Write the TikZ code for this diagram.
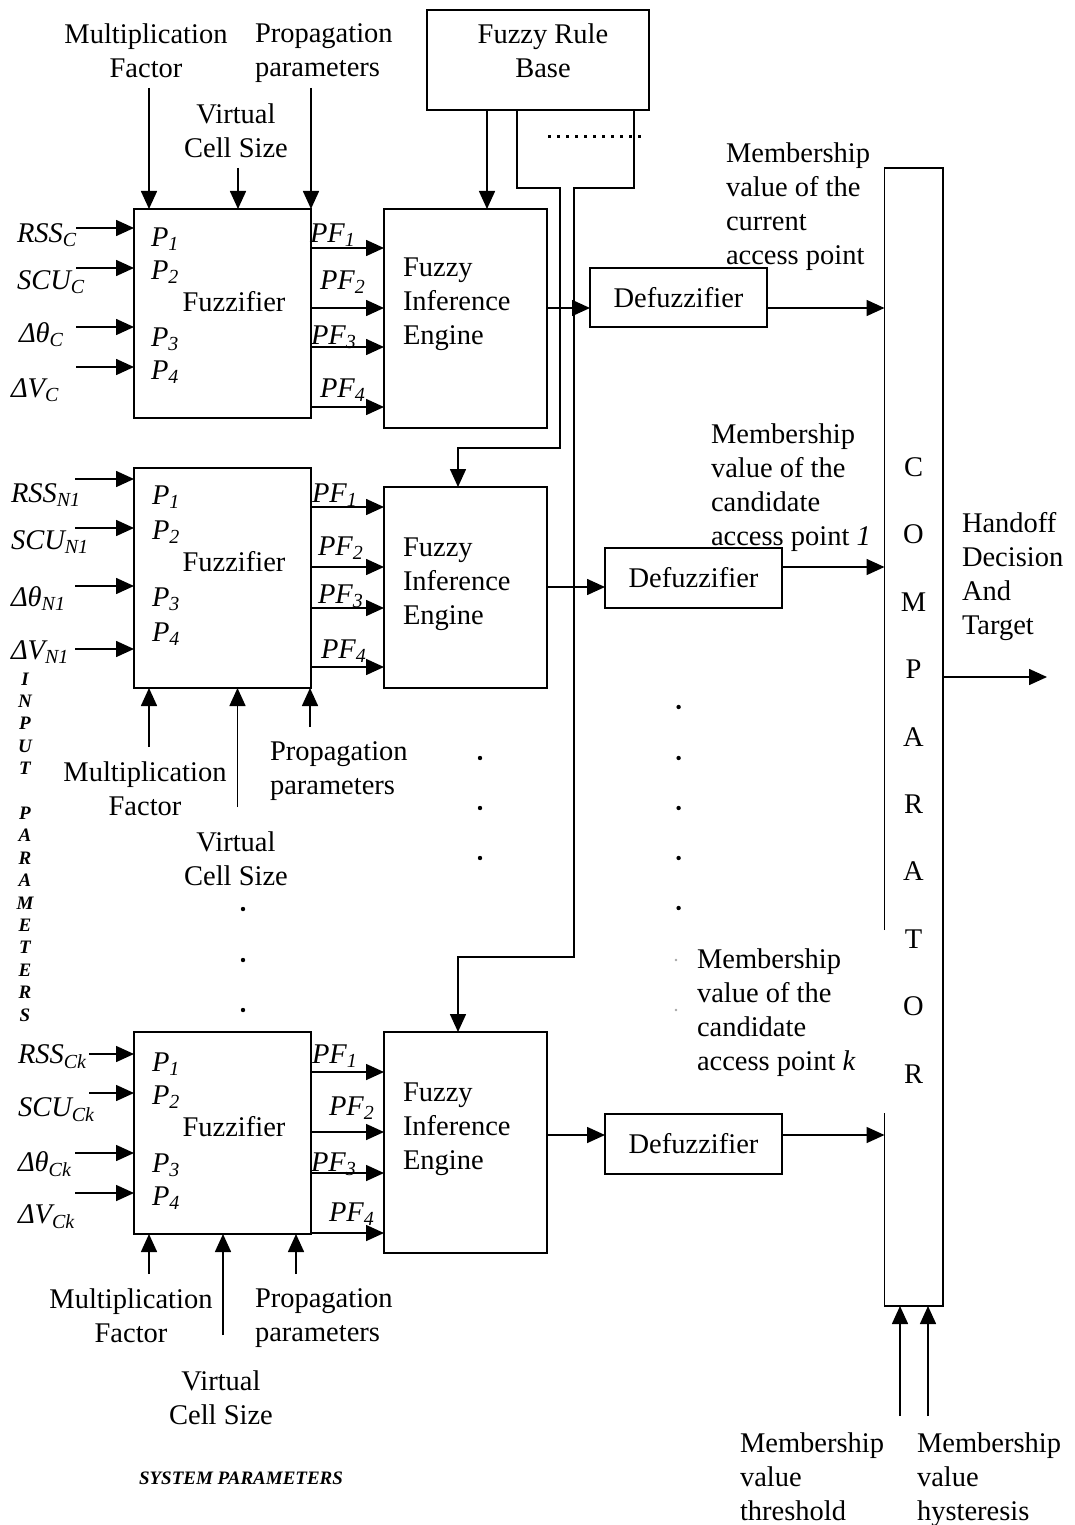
\documentclass[tikz,border=0pt]{standalone}
\usepackage{fontspec}
\setmainfont{Liberation Serif}
\usetikzlibrary{arrows.meta}
\begin{document}
\begin{tikzpicture}[x=1pt,y=-1pt,
  every node/.style={inner sep=0pt, outer sep=0pt},
  box/.style={draw, line width=1.6pt},
  wire/.style={line width=1.6pt},
  arr/.style={line width=1.6pt, -{Triangle[length=18pt,width=16pt]}},
  txt/.style={font=\fontsize{28.5}{34}\selectfont},
  itxt/.style={font=\fontsize{28.5}{34}\selectfont\itshape},
  tag/.style={font=\fontsize{19}{22.4}\selectfont\bfseries\itshape},
]
\useasboundingbox (0,0) rectangle (1074,1525);

% ---------- blocks ----------
\node[box, minimum width=222pt, minimum height=100pt] (rb) at (538,60) {};
\node[txt, align=center, anchor=north] (rbt) at (543,24) {Fuzzy Rule\\Base};

\node[box, minimum width=177pt, minimum height=209pt] (fz1) at (222.5,313.5) {};
\node[box, minimum width=163pt, minimum height=219pt] (fie1) at (465.5,318.5) {};
\node[box, minimum width=177pt, minimum height=59pt, txt] (df1) at (678.5,297.5) {Defuzzifier};

\node[box, minimum width=177pt, minimum height=220pt] (fz2) at (222.5,578) {};
\node[box, minimum width=163pt, minimum height=201pt] (fie2) at (465.5,587.5) {};
\node[box, minimum width=177pt, minimum height=60pt, txt] (df2) at (693.5,578) {Defuzzifier};

\node[box, minimum width=177pt, minimum height=202pt] (fz3) at (222.5,1133) {};
\node[box, minimum width=163pt, minimum height=221pt] (fie3) at (465.5,1142.5) {};
\node[box, minimum width=177pt, minimum height=60pt, txt] (df3) at (693.5,1144) {Defuzzifier};

% comparator: outline with an opening on the left side
\node[minimum width=58.5pt, minimum height=1138pt] (comp) at (913.75,737) {};
\coordinate (gapA) at (884.5,930);
\coordinate (gapB) at (884.5,1113);
\draw[wire] (gapA) -- (comp.north west) -- (comp.north east) -- (comp.south east) -- (comp.south west) -- (gapB);
\node[font=\fontsize{28.5}{67.4}\selectfont, align=center, anchor=north] (compt) at (913.5,457.6) {C\\O\\M\\P\\A\\R\\A\\T\\O\\R};

% ---------- texts inside the fuzzifiers and engines ----------
\node[txt, anchor=base] (fzt1) at (234,311) {Fuzzifier};
\node[txt, anchor=base] (fzt2) at (234,571) {Fuzzifier};
\node[txt, anchor=base] (fzt3) at (234,1136) {Fuzzifier};
\node[txt, align=left, anchor=north west] (fiet1) at (403,258) {Fuzzy\\Inference\\Engine};
\node[txt, align=left, anchor=north west] (fiet2) at (403,538) {Fuzzy\\Inference\\Engine};
\node[txt, align=left, anchor=north west] (fiet3) at (403,1083) {Fuzzy\\Inference\\Engine};

\node[itxt, anchor=base west] (p11) at (151,246) {P\textsubscript{1}};
\node[itxt, anchor=base west] (p12) at (151,279) {P\textsubscript{2}};
\node[itxt, anchor=base west] (p13) at (151,346) {P\textsubscript{3}};
\node[itxt, anchor=base west] (p14) at (151,379) {P\textsubscript{4}};
\node[itxt, anchor=base west] (p21) at (152,504) {P\textsubscript{1}};
\node[itxt, anchor=base west] (p22) at (152,539) {P\textsubscript{2}};
\node[itxt, anchor=base west] (p23) at (152,606) {P\textsubscript{3}};
\node[itxt, anchor=base west] (p24) at (152,641) {P\textsubscript{4}};
\node[itxt, anchor=base west] (p31) at (152,1071) {P\textsubscript{1}};
\node[itxt, anchor=base west] (p32) at (152,1104) {P\textsubscript{2}};
\node[itxt, anchor=base west] (p33) at (152,1172) {P\textsubscript{3}};
\node[itxt, anchor=base west] (p34) at (152,1205) {P\textsubscript{4}};

% ---------- input parameters ----------
\node[itxt, anchor=base west] (in1a) at (17,242) {RSS\textsubscript{C}};
\node[itxt, anchor=base west] (in1b) at (17,289) {SCU\textsubscript{C}};
\node[itxt, anchor=base west] (in1c) at (19,342) {Δθ\textsubscript{C}};
\node[itxt, anchor=base west] (in1d) at (11,397) {ΔV\textsubscript{C}};
\node[itxt, anchor=base west] (in2a) at (11,502) {RSS\textsubscript{N1}};
\node[itxt, anchor=base west] (in2b) at (11,549) {SCU\textsubscript{N1}};
\node[itxt, anchor=base west] (in2c) at (11,606) {Δθ\textsubscript{N1}};
\node[itxt, anchor=base west] (in2d) at (11,659) {ΔV\textsubscript{N1}};
\node[itxt, anchor=base west] (in3a) at (18,1063) {RSS\textsubscript{Ck}};
\node[itxt, anchor=base west] (in3b) at (18,1116) {SCU\textsubscript{Ck}};
\node[itxt, anchor=base west] (in3c) at (18,1171) {Δθ\textsubscript{Ck}};
\node[itxt, anchor=base west] (in3d) at (18,1223) {ΔV\textsubscript{Ck}};

\coordinate (s1a) at (76,228);  \coordinate (s1b) at (76,268);
\coordinate (s1c) at (76,327);  \coordinate (s1d) at (76,367);
\coordinate (s2a) at (75,479);  \coordinate (s2b) at (75,528);
\coordinate (s2c) at (75,586);  \coordinate (s2d) at (75,649);
\coordinate (s3a) at (89,1054); \coordinate (s3b) at (89,1093);
\coordinate (s3c) at (75,1153); \coordinate (s3d) at (75,1193);
\foreach \c in {s1a,s1b,s1c,s1d} \draw[arr] (\c) -- (\c -| fz1.west);
\foreach \c in {s2a,s2b,s2c,s2d} \draw[arr] (\c) -- (\c -| fz2.west);
\foreach \c in {s3a,s3b,s3c,s3d} \draw[arr] (\c) -- (\c -| fz3.west);

\node[tag, align=center, anchor=north] (inpar) at (25,672.7) {I\\N\\P\\U\\T\\[22.4pt]P\\A\\R\\A\\M\\E\\T\\E\\R\\S};

% ---------- fuzzified outputs ----------
\node[itxt, anchor=base west] (pf11) at (310,242) {PF\textsubscript{1}};
\node[itxt, anchor=base west] (pf12) at (320,289) {PF\textsubscript{2}};
\node[itxt, anchor=base west] (pf13) at (311,344) {PF\textsubscript{3}};
\node[itxt, anchor=base west] (pf14) at (320,397) {PF\textsubscript{4}};
\node[itxt, anchor=base west] (pf21) at (312,502) {PF\textsubscript{1}};
\node[itxt, anchor=base west] (pf22) at (318,555) {PF\textsubscript{2}};
\node[itxt, anchor=base west] (pf23) at (318,603) {PF\textsubscript{3}};
\node[itxt, anchor=base west] (pf24) at (321,658) {PF\textsubscript{4}};
\node[itxt, anchor=base west] (pf31) at (312,1063) {PF\textsubscript{1}};
\node[itxt, anchor=base west] (pf32) at (329,1115) {PF\textsubscript{2}};
\node[itxt, anchor=base west] (pf33) at (311,1171) {PF\textsubscript{3}};
\node[itxt, anchor=base west] (pf34) at (329,1221) {PF\textsubscript{4}};

\foreach \y in {248,308,347,407} \draw[arr] (fz1.east |- 0,\y) -- (fie1.west |- 0,\y);
\foreach \y in {507,567,608,667} \draw[arr] (fz2.east |- 0,\y) -- (fie2.west |- 0,\y);
\foreach \y in {1072,1132,1173,1233} \draw[arr] (fz3.east |- 0,\y) -- (fie3.west |- 0,\y);

% ---------- system parameters ----------
\node[txt, align=center, anchor=north] (mf1) at (146,24) {Multiplication\\Factor};
\node[txt, align=left, anchor=north west] (pp1) at (255,24) {Propagation\\parameters};
\node[txt, align=center, anchor=north] (vc1) at (236,104) {Virtual\\Cell Size};
\coordinate (t1a) at (149,88); \coordinate (t1b) at (238,168); \coordinate (t1c) at (311,88);
\foreach \c in {t1a,t1b,t1c} \draw[arr] (\c) -- (\c |- fz1.north);

\node[txt, align=center, anchor=north] (mf2) at (145,762) {Multiplication\\Factor};
\node[txt, align=left, anchor=north west] (pp2) at (270,742) {Propagation\\parameters};
\node[txt, align=center, anchor=north] (vc2) at (236,832) {Virtual\\Cell Size};
\coordinate (t2a) at (149,747); \coordinate (t2b) at (237.5,807); \coordinate (t2c) at (310,727);
\foreach \c in {t2a,t2b,t2c} \draw[arr] (\c) -- (\c |- fz2.south);

\node[txt, align=center, anchor=north] (mf3) at (131,1289) {Multiplication\\Factor};
\node[txt, align=left, anchor=north west] (pp3) at (255,1289) {Propagation\\parameters};
\node[txt, align=center, anchor=north] (vc3) at (221,1371) {Virtual\\Cell Size};
\coordinate (t3a) at (149,1274); \coordinate (t3b) at (223,1335); \coordinate (t3c) at (296,1274);
\foreach \c in {t3a,t3b,t3c} \draw[arr] (\c) -- (\c |- fz3.south);

\node[tag, anchor=base] (syspar) at (241,1484) {SYSTEM PARAMETERS};

% ---------- rule base feeds ----------
\draw[arr] (rb.south -| 487,0) -- (fie1.north -| 487,0);
\draw[arr] (rb.south -| 517,0) |- (560,188) -- (560,448) -| (fie2.north -| 458,0);
\draw[arr] (rb.south -| 634,0) |- (574,188) -- (574,957) -| (fie3.north -| 458,0);
\draw[line width=3pt, dash pattern=on 2.6pt off 6.4pt] (548,137) -- (646,137);

% ---------- engines to defuzzifiers to comparator ----------
\draw[arr] (fie1.east |- 0,308) -- (df1.west |- 0,308);
\draw[arr] (df1.east |- 0,308) -- (comp.west |- 0,308);
\draw[arr] (fie2.east |- 0,587) -- (df2.west |- 0,587);
\draw[arr] (df2.east |- 0,567) -- (comp.west |- 0,567);
\draw[arr] (fie3.east |- 0,1135) -- (df3.west |- 0,1135);
\draw[arr] (df3.east |- 0,1135) -- (comp.west |- 0,1135);

\node[txt, align=left, anchor=north west] (mv1) at (726,143) {Membership\\value of the\\current\\access point};
\node[txt, align=left, anchor=north west] (mv2) at (711,424) {Membership\\value of the\\candidate\\access point \textit{1}};
\node[txt, align=left, anchor=north west] (mv3) at (697,949) {Membership\\value of the\\candidate\\access point \textit{k}};

% ---------- comparator output and thresholds ----------
\coordinate (outp) at (1047,677);
\draw[arr] (comp.east |- outp) -- (outp);
\node[txt, align=left, anchor=north west] (hd) at (962,512) {Handoff\\Decision\\And\\Target};

\coordinate (thr) at (900,1416); \coordinate (hys) at (928,1416);
\draw[arr] (thr) -- (thr |- comp.south);
\draw[arr] (hys) -- (hys |- comp.south);
\node[txt, align=left, anchor=north west] (thrt) at (740,1433) {Membership\\value\\threshold};
\node[txt, align=left, anchor=north west] (hyst) at (917,1433) {Membership\\value\\hysteresis};

% ---------- ellipsis dots ----------
\foreach \y in {758,808,858} \fill (480,\y) circle (2.2pt);
\foreach \y in {707,758,808,858,908} \fill (678.6,\y) circle (2.2pt);
\foreach \y in {960,1010} \fill[gray!70] (676,\y) circle (1.3pt);
\foreach \y in {909,960,1010} \fill (243,\y) circle (2.2pt);
\end{tikzpicture}
\end{document}
